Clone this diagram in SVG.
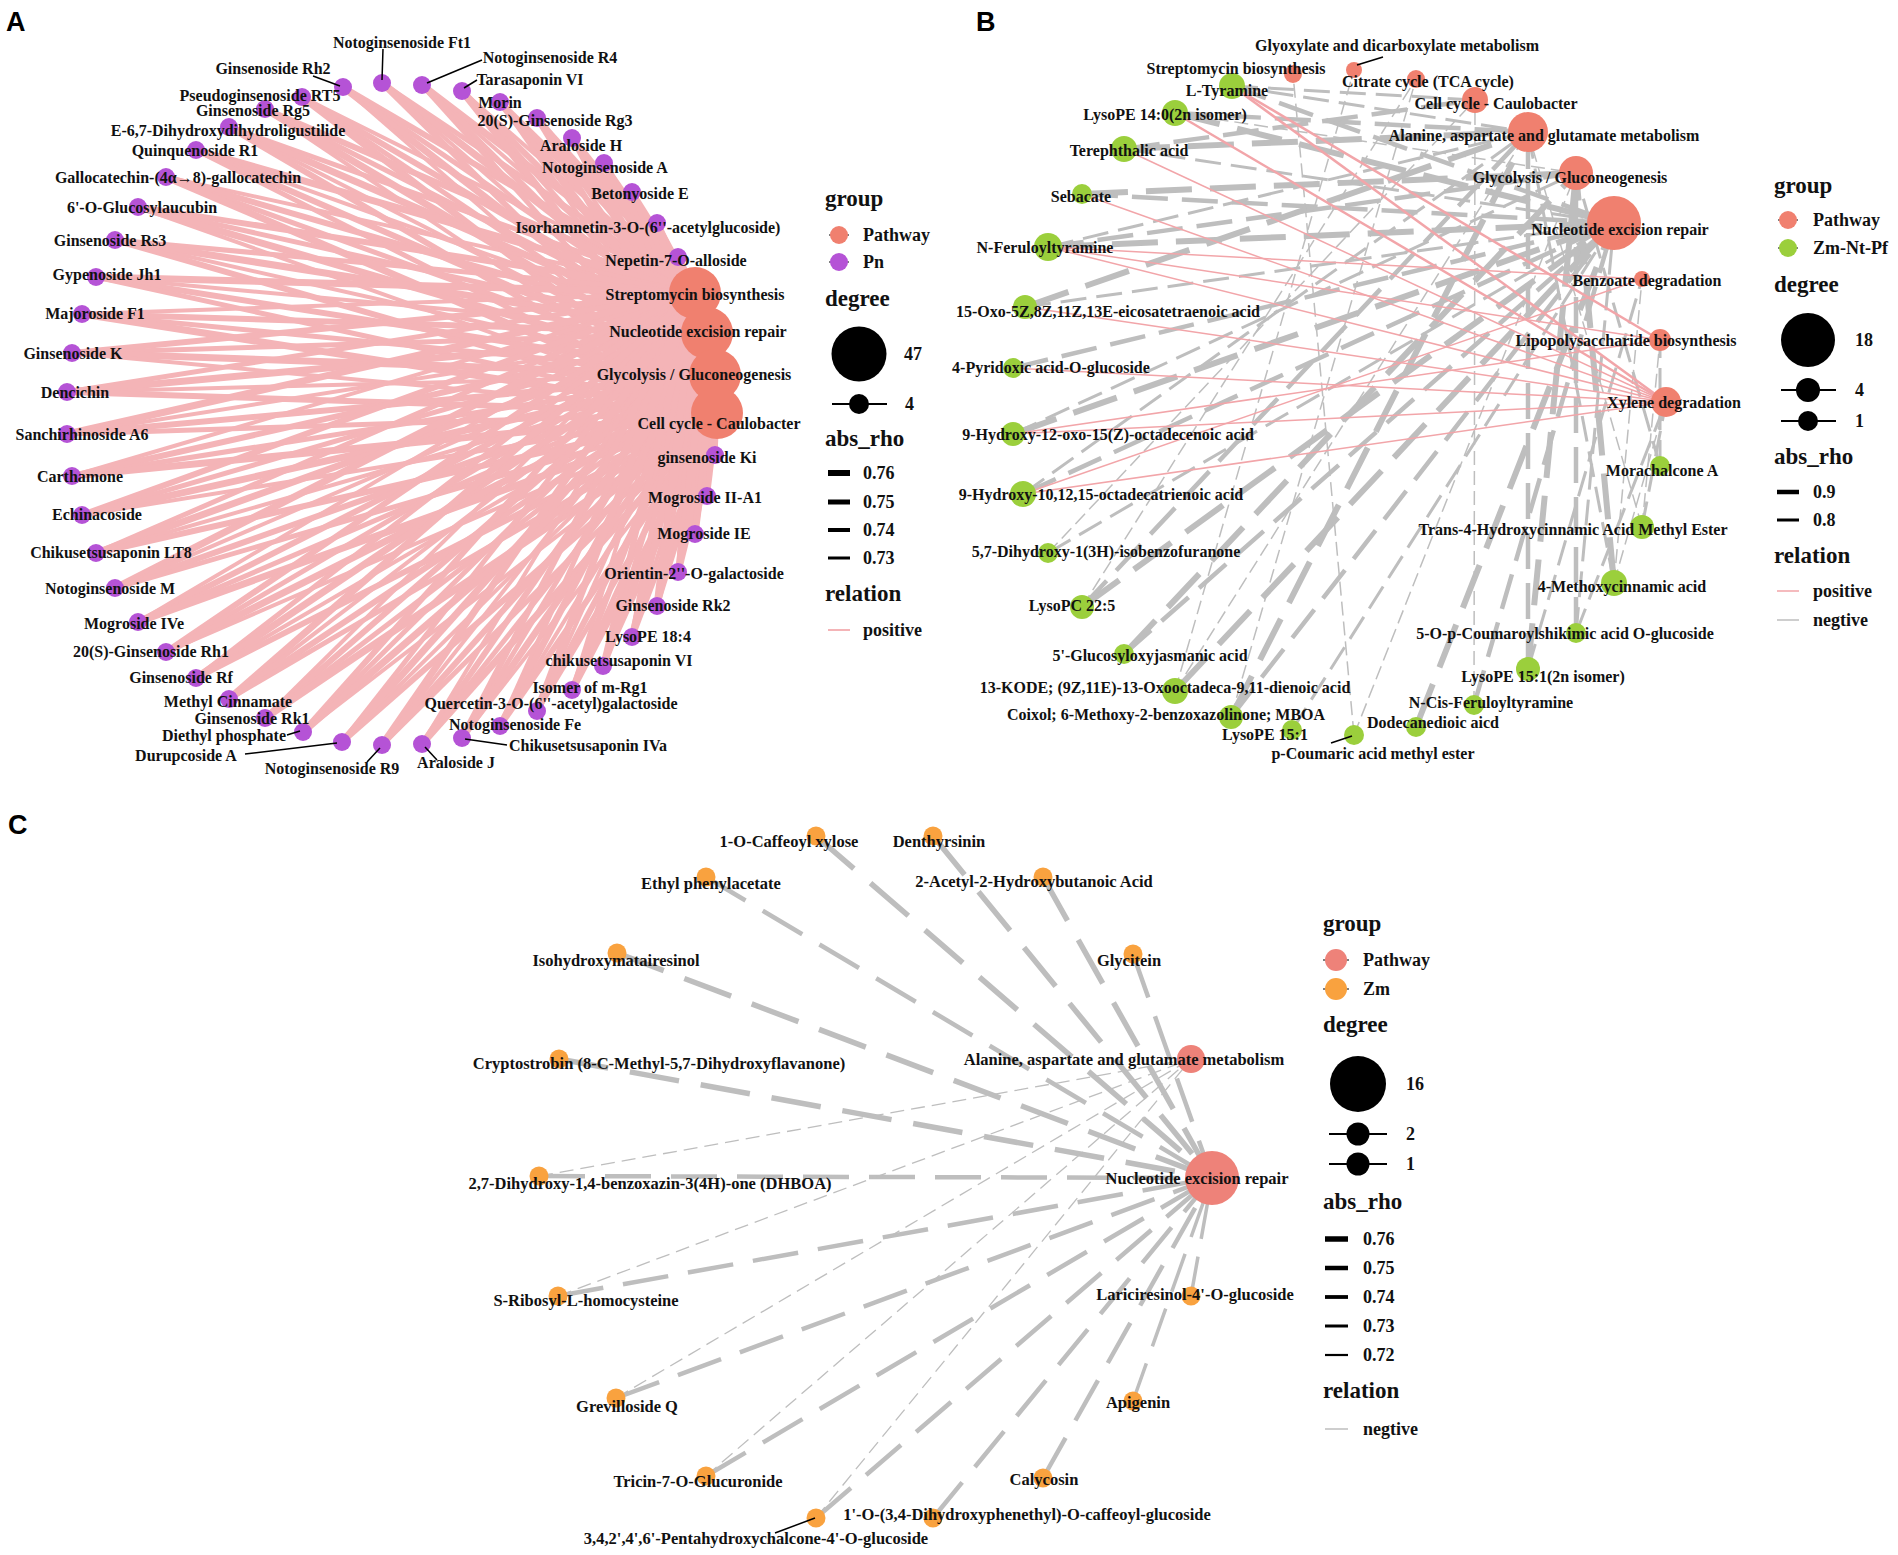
<svg xmlns="http://www.w3.org/2000/svg" width="1898" height="1555" viewBox="0 0 1898 1555">
<style>
text{font-family:"Liberation Serif","Times New Roman",serif;font-weight:bold;fill:#111}
.lbl{font-size:16px;text-anchor:middle;dominant-baseline:central}
.lc{font-size:16.5px;text-anchor:middle;dominant-baseline:central}
.ttl{font-size:23px}
.lg{font-size:18px}
.pl{font-family:"Liberation Sans",Arial,sans-serif;font-size:27px;fill:#000}
.a4,.a5,.a6,.a7{stroke:#F4B4B7;fill:none}
.a4{stroke-width:4}.a5{stroke-width:5}.a6{stroke-width:6}.a7{stroke-width:7}
.q1,.q2{stroke:#F2A5A9;fill:none}
.q1{stroke-width:1.5}.q2{stroke-width:2.5}
.d1,.d2,.d3,.d4{stroke:#BEBEBE;fill:none}
.d1{stroke-width:1.5;stroke-dasharray:14 6}
.d2{stroke-width:3;stroke-dasharray:26 10}
.d3{stroke-width:4.5;stroke-dasharray:36 14}
.d4{stroke-width:6;stroke-dasharray:46 18}
.c1,.c2,.c3,.c4{stroke:#BEBEBE;fill:none}
.c1{stroke-width:1.3;stroke-dasharray:14 7}
.c2{stroke-width:3.5;stroke-dasharray:40 18}
.c3{stroke-width:4.5;stroke-dasharray:46 20}
.c4{stroke-width:5.5;stroke-dasharray:50 22}
.ld{stroke:#000;stroke-width:1.5;fill:none}
.pw{fill:#F0806F}
.pn{fill:#B553D6}
.gr{fill:#9BCF3C}
.zm{fill:#F9A23F}
.pc{fill:#EE8279}
</style>

<!-- Panel letters -->
<text class="pl" x="6" y="31">A</text>
<text class="pl" x="976" y="31">B</text>
<text class="pl" x="8" y="834">C</text>

<!-- ========== Panel A connectors ========== -->
<g id="edges-A">
<line class="a6" x1="343" y1="87" x2="695" y2="293"/><line class="a5" x1="343" y1="87" x2="707" y2="333"/><line class="a7" x1="343" y1="87" x2="715" y2="375"/><line class="a4" x1="343" y1="87" x2="717" y2="413"/>
<line class="a5" x1="382" y1="83" x2="695" y2="293"/><line class="a7" x1="382" y1="83" x2="707" y2="333"/><line class="a4" x1="382" y1="83" x2="715" y2="375"/><line class="a6" x1="382" y1="83" x2="717" y2="413"/>
<line class="a7" x1="422" y1="85" x2="695" y2="293"/><line class="a4" x1="422" y1="85" x2="707" y2="333"/><line class="a6" x1="422" y1="85" x2="715" y2="375"/><line class="a5" x1="422" y1="85" x2="717" y2="413"/>
<line class="a4" x1="462" y1="91" x2="695" y2="293"/><line class="a6" x1="462" y1="91" x2="707" y2="333"/><line class="a5" x1="462" y1="91" x2="715" y2="375"/><line class="a7" x1="462" y1="91" x2="717" y2="413"/>
<line class="a6" x1="500" y1="102" x2="695" y2="293"/><line class="a5" x1="500" y1="102" x2="707" y2="333"/><line class="a7" x1="500" y1="102" x2="715" y2="375"/><line class="a4" x1="500" y1="102" x2="717" y2="413"/>
<line class="a5" x1="537" y1="118" x2="695" y2="293"/><line class="a7" x1="537" y1="118" x2="707" y2="333"/><line class="a4" x1="537" y1="118" x2="715" y2="375"/><line class="a6" x1="537" y1="118" x2="717" y2="413"/>
<line class="a7" x1="572" y1="138" x2="695" y2="293"/><line class="a4" x1="572" y1="138" x2="707" y2="333"/><line class="a6" x1="572" y1="138" x2="715" y2="375"/><line class="a5" x1="572" y1="138" x2="717" y2="413"/>
<line class="a4" x1="604" y1="163" x2="695" y2="293"/><line class="a6" x1="604" y1="163" x2="707" y2="333"/><line class="a5" x1="604" y1="163" x2="715" y2="375"/><line class="a7" x1="604" y1="163" x2="717" y2="413"/>
<line class="a6" x1="632" y1="192" x2="695" y2="293"/><line class="a5" x1="632" y1="192" x2="707" y2="333"/><line class="a7" x1="632" y1="192" x2="715" y2="375"/><line class="a4" x1="632" y1="192" x2="717" y2="413"/>
<line class="a5" x1="657" y1="223" x2="695" y2="293"/><line class="a7" x1="657" y1="223" x2="707" y2="333"/><line class="a4" x1="657" y1="223" x2="715" y2="375"/><line class="a6" x1="657" y1="223" x2="717" y2="413"/>
<line class="a7" x1="678" y1="257" x2="695" y2="293"/><line class="a4" x1="678" y1="257" x2="707" y2="333"/><line class="a6" x1="678" y1="257" x2="715" y2="375"/><line class="a5" x1="678" y1="257" x2="717" y2="413"/>
<line class="a4" x1="302" y1="97" x2="695" y2="293"/><line class="a6" x1="302" y1="97" x2="707" y2="333"/><line class="a5" x1="302" y1="97" x2="715" y2="375"/><line class="a7" x1="302" y1="97" x2="717" y2="413"/>
<line class="a6" x1="265" y1="109" x2="695" y2="293"/><line class="a5" x1="265" y1="109" x2="707" y2="333"/><line class="a7" x1="265" y1="109" x2="715" y2="375"/><line class="a4" x1="265" y1="109" x2="717" y2="413"/>
<line class="a5" x1="229" y1="127" x2="695" y2="293"/><line class="a7" x1="229" y1="127" x2="707" y2="333"/><line class="a4" x1="229" y1="127" x2="715" y2="375"/><line class="a6" x1="229" y1="127" x2="717" y2="413"/>
<line class="a7" x1="196" y1="150" x2="695" y2="293"/><line class="a4" x1="196" y1="150" x2="707" y2="333"/><line class="a6" x1="196" y1="150" x2="715" y2="375"/><line class="a5" x1="196" y1="150" x2="717" y2="413"/>
<line class="a4" x1="166" y1="177" x2="695" y2="293"/><line class="a6" x1="166" y1="177" x2="707" y2="333"/><line class="a5" x1="166" y1="177" x2="715" y2="375"/><line class="a7" x1="166" y1="177" x2="717" y2="413"/>
<line class="a6" x1="138" y1="207" x2="695" y2="293"/><line class="a5" x1="138" y1="207" x2="707" y2="333"/><line class="a7" x1="138" y1="207" x2="715" y2="375"/><line class="a4" x1="138" y1="207" x2="717" y2="413"/>
<line class="a5" x1="115" y1="240" x2="695" y2="293"/><line class="a7" x1="115" y1="240" x2="707" y2="333"/><line class="a4" x1="115" y1="240" x2="715" y2="375"/><line class="a6" x1="115" y1="240" x2="717" y2="413"/>
<line class="a7" x1="96" y1="277" x2="695" y2="293"/><line class="a4" x1="96" y1="277" x2="707" y2="333"/><line class="a6" x1="96" y1="277" x2="715" y2="375"/><line class="a5" x1="96" y1="277" x2="717" y2="413"/>
<line class="a4" x1="82" y1="314" x2="695" y2="293"/><line class="a6" x1="82" y1="314" x2="707" y2="333"/><line class="a5" x1="82" y1="314" x2="715" y2="375"/><line class="a7" x1="82" y1="314" x2="717" y2="413"/>
<line class="a6" x1="72" y1="353" x2="695" y2="293"/><line class="a5" x1="72" y1="353" x2="707" y2="333"/><line class="a7" x1="72" y1="353" x2="715" y2="375"/><line class="a4" x1="72" y1="353" x2="717" y2="413"/>
<line class="a5" x1="67" y1="392" x2="695" y2="293"/><line class="a7" x1="67" y1="392" x2="707" y2="333"/><line class="a4" x1="67" y1="392" x2="715" y2="375"/><line class="a6" x1="67" y1="392" x2="717" y2="413"/>
<line class="a7" x1="67" y1="434" x2="695" y2="293"/><line class="a4" x1="67" y1="434" x2="707" y2="333"/><line class="a6" x1="67" y1="434" x2="715" y2="375"/><line class="a5" x1="67" y1="434" x2="717" y2="413"/>
<line class="a4" x1="72" y1="476" x2="695" y2="293"/><line class="a6" x1="72" y1="476" x2="707" y2="333"/><line class="a5" x1="72" y1="476" x2="715" y2="375"/><line class="a7" x1="72" y1="476" x2="717" y2="413"/>
<line class="a6" x1="82" y1="515" x2="695" y2="293"/><line class="a5" x1="82" y1="515" x2="707" y2="333"/><line class="a7" x1="82" y1="515" x2="715" y2="375"/><line class="a4" x1="82" y1="515" x2="717" y2="413"/>
<line class="a5" x1="96" y1="553" x2="695" y2="293"/><line class="a7" x1="96" y1="553" x2="707" y2="333"/><line class="a4" x1="96" y1="553" x2="715" y2="375"/><line class="a6" x1="96" y1="553" x2="717" y2="413"/>
<line class="a7" x1="115" y1="588" x2="695" y2="293"/><line class="a4" x1="115" y1="588" x2="707" y2="333"/><line class="a6" x1="115" y1="588" x2="715" y2="375"/><line class="a5" x1="115" y1="588" x2="717" y2="413"/>
<line class="a4" x1="138" y1="622" x2="695" y2="293"/><line class="a6" x1="138" y1="622" x2="707" y2="333"/><line class="a5" x1="138" y1="622" x2="715" y2="375"/><line class="a7" x1="138" y1="622" x2="717" y2="413"/>
<line class="a6" x1="166" y1="652" x2="695" y2="293"/><line class="a5" x1="166" y1="652" x2="707" y2="333"/><line class="a7" x1="166" y1="652" x2="715" y2="375"/><line class="a4" x1="166" y1="652" x2="717" y2="413"/>
<line class="a5" x1="196" y1="678" x2="695" y2="293"/><line class="a7" x1="196" y1="678" x2="707" y2="333"/><line class="a4" x1="196" y1="678" x2="715" y2="375"/><line class="a6" x1="196" y1="678" x2="717" y2="413"/>
<line class="a7" x1="229" y1="699" x2="695" y2="293"/><line class="a4" x1="229" y1="699" x2="707" y2="333"/><line class="a6" x1="229" y1="699" x2="715" y2="375"/><line class="a5" x1="229" y1="699" x2="717" y2="413"/>
<line class="a4" x1="265" y1="718" x2="695" y2="293"/><line class="a6" x1="265" y1="718" x2="707" y2="333"/><line class="a5" x1="265" y1="718" x2="715" y2="375"/><line class="a7" x1="265" y1="718" x2="717" y2="413"/>
<line class="a6" x1="303" y1="732" x2="695" y2="293"/><line class="a5" x1="303" y1="732" x2="707" y2="333"/><line class="a7" x1="303" y1="732" x2="715" y2="375"/><line class="a4" x1="303" y1="732" x2="717" y2="413"/>
<line class="a5" x1="342" y1="742" x2="695" y2="293"/><line class="a7" x1="342" y1="742" x2="707" y2="333"/><line class="a4" x1="342" y1="742" x2="715" y2="375"/><line class="a6" x1="342" y1="742" x2="717" y2="413"/>
<line class="a7" x1="382" y1="745" x2="695" y2="293"/><line class="a4" x1="382" y1="745" x2="707" y2="333"/><line class="a6" x1="382" y1="745" x2="715" y2="375"/><line class="a5" x1="382" y1="745" x2="717" y2="413"/>
<line class="a4" x1="422" y1="744" x2="695" y2="293"/><line class="a6" x1="422" y1="744" x2="707" y2="333"/><line class="a5" x1="422" y1="744" x2="715" y2="375"/><line class="a7" x1="422" y1="744" x2="717" y2="413"/>
<line class="a6" x1="462" y1="738" x2="695" y2="293"/><line class="a5" x1="462" y1="738" x2="707" y2="333"/><line class="a7" x1="462" y1="738" x2="715" y2="375"/><line class="a4" x1="462" y1="738" x2="717" y2="413"/>
<line class="a5" x1="500" y1="726" x2="695" y2="293"/><line class="a7" x1="500" y1="726" x2="707" y2="333"/><line class="a4" x1="500" y1="726" x2="715" y2="375"/><line class="a6" x1="500" y1="726" x2="717" y2="413"/>
<line class="a7" x1="537" y1="711" x2="695" y2="293"/><line class="a4" x1="537" y1="711" x2="707" y2="333"/><line class="a6" x1="537" y1="711" x2="715" y2="375"/><line class="a5" x1="537" y1="711" x2="717" y2="413"/>
<line class="a4" x1="572" y1="690" x2="695" y2="293"/><line class="a6" x1="572" y1="690" x2="707" y2="333"/><line class="a5" x1="572" y1="690" x2="715" y2="375"/><line class="a7" x1="572" y1="690" x2="717" y2="413"/>
<line class="a6" x1="603" y1="666" x2="695" y2="293"/><line class="a5" x1="603" y1="666" x2="707" y2="333"/><line class="a7" x1="603" y1="666" x2="715" y2="375"/><line class="a4" x1="603" y1="666" x2="717" y2="413"/>
<line class="a5" x1="632" y1="637" x2="695" y2="293"/><line class="a7" x1="632" y1="637" x2="707" y2="333"/><line class="a4" x1="632" y1="637" x2="715" y2="375"/><line class="a6" x1="632" y1="637" x2="717" y2="413"/>
<line class="a7" x1="657" y1="606" x2="695" y2="293"/><line class="a4" x1="657" y1="606" x2="707" y2="333"/><line class="a6" x1="657" y1="606" x2="715" y2="375"/><line class="a5" x1="657" y1="606" x2="717" y2="413"/>
<line class="a4" x1="678" y1="572" x2="695" y2="293"/><line class="a6" x1="678" y1="572" x2="707" y2="333"/><line class="a5" x1="678" y1="572" x2="715" y2="375"/><line class="a7" x1="678" y1="572" x2="717" y2="413"/>
<line class="a6" x1="695" y1="534" x2="695" y2="293"/><line class="a5" x1="695" y1="534" x2="707" y2="333"/><line class="a7" x1="695" y1="534" x2="715" y2="375"/><line class="a4" x1="695" y1="534" x2="717" y2="413"/>
<line class="a5" x1="707" y1="496" x2="695" y2="293"/><line class="a7" x1="707" y1="496" x2="707" y2="333"/><line class="a4" x1="707" y1="496" x2="715" y2="375"/><line class="a6" x1="707" y1="496" x2="717" y2="413"/>
<line class="a7" x1="715" y1="455" x2="695" y2="293"/><line class="a4" x1="715" y1="455" x2="707" y2="333"/><line class="a6" x1="715" y1="455" x2="715" y2="375"/><line class="a5" x1="715" y1="455" x2="717" y2="413"/>
</g>

<!-- ========== Panel B connectors ========== -->
<g id="edges-B">
<line class="d3" x1="1232" y1="86" x2="1614" y2="223"/>
<line class="d4" x1="1175" y1="113" x2="1614" y2="223"/>
<line class="d2" x1="1124" y1="149" x2="1614" y2="223"/>
<line class="d3" x1="1082" y1="194" x2="1614" y2="223"/>
<line class="d4" x1="1048" y1="247" x2="1614" y2="223"/>
<line class="d2" x1="1025" y1="307" x2="1614" y2="223"/>
<line class="d3" x1="1013" y1="368" x2="1614" y2="223"/>
<line class="d4" x1="1013" y1="434" x2="1614" y2="223"/>
<line class="d3" x1="1023" y1="494" x2="1614" y2="223"/>
<line class="d2" x1="1048" y1="553" x2="1614" y2="223"/>
<line class="d4" x1="1082" y1="607" x2="1614" y2="223"/>
<line class="d3" x1="1124" y1="654" x2="1614" y2="223"/>
<line class="d4" x1="1175" y1="691" x2="1614" y2="223"/>
<line class="d3" x1="1231" y1="717" x2="1614" y2="223"/>
<line class="d2" x1="1292" y1="730" x2="1614" y2="223"/>
<line class="d4" x1="1416" y1="727" x2="1614" y2="223"/>
<line class="d3" x1="1474" y1="705" x2="1614" y2="223"/>
<line class="d2" x1="1576" y1="633" x2="1614" y2="223"/>
<line class="d2" x1="1232" y1="86" x2="1528" y2="132"/>
<line class="d3" x1="1175" y1="113" x2="1528" y2="132"/>
<line class="d4" x1="1124" y1="149" x2="1528" y2="132"/>
<line class="d2" x1="1048" y1="247" x2="1528" y2="132"/>
<line class="d4" x1="1025" y1="307" x2="1528" y2="132"/>
<line class="d2" x1="1023" y1="494" x2="1528" y2="132"/>
<line class="d3" x1="1082" y1="607" x2="1528" y2="132"/>
<line class="d1" x1="1175" y1="691" x2="1528" y2="132"/>
<line class="d4" x1="1231" y1="717" x2="1528" y2="132"/>
<line class="d3" x1="1528" y1="669" x2="1528" y2="132"/>
<line class="d2" x1="1614" y1="583" x2="1528" y2="132"/>
<line class="d1" x1="1642" y1="527" x2="1528" y2="132"/>
<line class="d1" x1="1175" y1="113" x2="1576" y2="173"/>
<line class="d4" x1="1082" y1="194" x2="1576" y2="173"/>
<line class="d3" x1="1048" y1="247" x2="1576" y2="173"/>
<line class="d2" x1="1013" y1="434" x2="1576" y2="173"/>
<line class="d4" x1="1124" y1="654" x2="1576" y2="173"/>
<line class="d1" x1="1354" y1="735" x2="1576" y2="173"/>
<line class="d4" x1="1528" y1="669" x2="1576" y2="173"/>
<line class="d3" x1="1576" y1="633" x2="1576" y2="173"/>
<line class="d4" x1="1614" y1="583" x2="1576" y2="173"/>
<line class="d2" x1="1660" y1="466" x2="1576" y2="173"/>
<line class="d2" x1="1232" y1="86" x2="1475" y2="100"/>
<line class="d3" x1="1124" y1="149" x2="1475" y2="100"/>
<line class="d1" x1="1048" y1="553" x2="1475" y2="100"/>
<line class="d1" x1="1474" y1="705" x2="1475" y2="100"/>
<line class="d1" x1="1082" y1="607" x2="1416" y2="79"/>
<line class="d1" x1="1231" y1="717" x2="1416" y2="79"/>
<line class="d1" x1="1354" y1="735" x2="1293" y2="74"/>
<line class="d1" x1="1175" y1="691" x2="1354" y2="70"/>
<line class="d1" x1="1642" y1="527" x2="1660" y2="340"/>
<line class="d2" x1="1660" y1="466" x2="1660" y2="340"/>
<line class="d2" x1="1576" y1="633" x2="1666" y2="402"/>
<line class="d1" x1="1614" y1="583" x2="1666" y2="402"/>
<line class="d2" x1="1642" y1="527" x2="1666" y2="402"/>
<line class="d1" x1="1614" y1="583" x2="1642" y2="279"/>
<line class="d2" x1="1528" y1="669" x2="1642" y2="279"/>
<line class="q2" x1="1232" y1="86" x2="1660" y2="340"/>
<line class="q2" x1="1232" y1="86" x2="1666" y2="402"/>
<line class="q2" x1="1175" y1="113" x2="1666" y2="402"/>
<line class="q1" x1="1124" y1="149" x2="1666" y2="402"/>
<line class="q1" x1="1082" y1="194" x2="1666" y2="402"/>
<line class="q1" x1="1048" y1="247" x2="1666" y2="402"/>
<line class="q1" x1="1048" y1="247" x2="1660" y2="340"/>
<line class="q1" x1="1048" y1="247" x2="1642" y2="279"/>
<line class="q1" x1="1025" y1="307" x2="1666" y2="402"/>
<line class="q1" x1="1013" y1="368" x2="1666" y2="402"/>
<line class="q1" x1="1013" y1="434" x2="1666" y2="402"/>
<line class="q1" x1="1013" y1="434" x2="1660" y2="340"/>
<line class="q1" x1="1023" y1="494" x2="1666" y2="402"/>
<line class="q1" x1="1023" y1="494" x2="1642" y2="279"/>
</g>

<!-- ========== Panel C connectors ========== -->
<g id="edges-C">
<line class="c4" x1="816" y1="836" x2="1212" y2="1178"/>
<line class="c4" x1="933" y1="836" x2="1212" y2="1178"/>
<line class="c3" x1="706" y1="877" x2="1212" y2="1178"/>
<line class="c4" x1="1043" y1="877" x2="1212" y2="1178"/>
<line class="c4" x1="617" y1="953" x2="1212" y2="1178"/>
<line class="c3" x1="1133" y1="954" x2="1212" y2="1178"/>
<line class="c4" x1="559" y1="1059" x2="1212" y2="1178"/>
<line class="c3" x1="539" y1="1176" x2="1212" y2="1178"/>
<line class="c3" x1="558" y1="1296" x2="1212" y2="1178"/>
<line class="c2" x1="1191" y1="1296" x2="1212" y2="1178"/>
<line class="c3" x1="616" y1="1398" x2="1212" y2="1178"/>
<line class="c2" x1="1133" y1="1401" x2="1212" y2="1178"/>
<line class="c3" x1="706" y1="1476" x2="1212" y2="1178"/>
<line class="c3" x1="1043" y1="1478" x2="1212" y2="1178"/>
<line class="c3" x1="816" y1="1518" x2="1212" y2="1178"/>
<line class="c3" x1="933" y1="1518" x2="1212" y2="1178"/>
<line class="c1" x1="539" y1="1176" x2="1191" y2="1059"/>
<line class="c1" x1="558" y1="1296" x2="1191" y2="1059"/>
<line class="c1" x1="616" y1="1398" x2="1191" y2="1059"/>
<line class="c1" x1="706" y1="1476" x2="1191" y2="1059"/>
<line class="c1" x1="816" y1="1518" x2="1191" y2="1059"/>
</g>

<!-- ========== Panel A nodes ========== -->
<g id="nodes-A">
<g id="A-pathways">
<circle class="pw" cx="695" cy="293" r="26"/>
<circle class="pw" cx="707" cy="333" r="26"/>
<circle class="pw" cx="715" cy="375" r="26"/>
<circle class="pw" cx="717" cy="413" r="26"/>
</g>
<g id="A-pn">
<circle class="pn" cx="343" cy="87" r="9"/><circle class="pn" cx="382" cy="83" r="9"/><circle class="pn" cx="422" cy="85" r="9"/><circle class="pn" cx="462" cy="91" r="9"/>
<circle class="pn" cx="500" cy="102" r="9"/><circle class="pn" cx="537" cy="118" r="9"/><circle class="pn" cx="572" cy="138" r="9"/><circle class="pn" cx="604" cy="163" r="9"/>
<circle class="pn" cx="632" cy="192" r="9"/><circle class="pn" cx="657" cy="223" r="9"/><circle class="pn" cx="678" cy="257" r="9"/><circle class="pn" cx="302" cy="97" r="9"/>
<circle class="pn" cx="265" cy="109" r="9"/><circle class="pn" cx="229" cy="127" r="9"/><circle class="pn" cx="196" cy="150" r="9"/><circle class="pn" cx="166" cy="177" r="9"/>
<circle class="pn" cx="138" cy="207" r="9"/><circle class="pn" cx="115" cy="240" r="9"/><circle class="pn" cx="96" cy="277" r="9"/><circle class="pn" cx="82" cy="314" r="9"/>
<circle class="pn" cx="72" cy="353" r="9"/><circle class="pn" cx="67" cy="392" r="9"/><circle class="pn" cx="67" cy="434" r="9"/><circle class="pn" cx="72" cy="476" r="9"/>
<circle class="pn" cx="82" cy="515" r="9"/><circle class="pn" cx="96" cy="553" r="9"/><circle class="pn" cx="115" cy="588" r="9"/><circle class="pn" cx="138" cy="622" r="9"/>
<circle class="pn" cx="166" cy="652" r="9"/><circle class="pn" cx="196" cy="678" r="9"/><circle class="pn" cx="229" cy="699" r="9"/><circle class="pn" cx="265" cy="718" r="9"/>
<circle class="pn" cx="303" cy="732" r="9"/><circle class="pn" cx="342" cy="742" r="9"/><circle class="pn" cx="382" cy="745" r="9"/><circle class="pn" cx="422" cy="744" r="9"/>
<circle class="pn" cx="462" cy="738" r="9"/><circle class="pn" cx="500" cy="726" r="9"/><circle class="pn" cx="537" cy="711" r="9"/><circle class="pn" cx="572" cy="690" r="9"/>
<circle class="pn" cx="603" cy="666" r="9"/><circle class="pn" cx="632" cy="637" r="9"/><circle class="pn" cx="657" cy="606" r="9"/><circle class="pn" cx="678" cy="572" r="9"/>
<circle class="pn" cx="695" cy="534" r="9"/><circle class="pn" cx="707" cy="496" r="9"/><circle class="pn" cx="715" cy="455" r="9"/>
</g>
<g id="A-leaders">
<line class="ld" x1="313" y1="76" x2="340" y2="86"/>
<line class="ld" x1="383" y1="49" x2="382" y2="80"/>
<line class="ld" x1="427" y1="83" x2="482" y2="60"/>
<line class="ld" x1="464" y1="88" x2="477" y2="80"/>
<line class="ld" x1="287" y1="735" x2="300" y2="731"/>
<line class="ld" x1="245" y1="754" x2="337" y2="743"/>
<line class="ld" x1="367" y1="762" x2="380" y2="748"/>
<line class="ld" x1="437" y1="760" x2="425" y2="747"/>
<line class="ld" x1="465" y1="739" x2="507" y2="745"/>
</g>
<g id="A-labels">
<text class="lbl" x="273" y="68">Ginsenoside Rh2</text>
<text class="lbl" x="402" y="42">Notoginsenoside Ft1</text>
<text class="lbl" x="550" y="57">Notoginsenoside R4</text>
<text class="lbl" x="530" y="79">Tarasaponin VI</text>
<text class="lbl" x="500" y="102">Morin</text>
<text class="lbl" x="555" y="120">20(S)-Ginsenoside Rg3</text>
<text class="lbl" x="581" y="145">Araloside H</text>
<text class="lbl" x="605" y="167">Notoginsenoside A</text>
<text class="lbl" x="640" y="193">Betonyoside E</text>
<text class="lbl" x="648" y="227">Isorhamnetin-3-O-(6''-acetylglucoside)</text>
<text class="lbl" x="676" y="260">Nepetin-7-O-alloside</text>
<text class="lbl" x="695" y="294">Streptomycin biosynthesis</text>
<text class="lbl" x="698" y="331">Nucleotide excision repair</text>
<text class="lbl" x="694" y="374">Glycolysis / Gluconeogenesis</text>
<text class="lbl" x="719" y="423">Cell cycle - Caulobacter</text>
<text class="lbl" x="707" y="457">ginsenoside Ki</text>
<text class="lbl" x="705" y="497">Mogroside II-A1</text>
<text class="lbl" x="704" y="533">Mogroside IE</text>
<text class="lbl" x="694" y="573">Orientin-2''-O-galactoside</text>
<text class="lbl" x="673" y="605">Ginsenoside Rk2</text>
<text class="lbl" x="648" y="636">LysoPE 18:4</text>
<text class="lbl" x="619" y="660">chikusetsusaponin VI</text>
<text class="lbl" x="590" y="687">Isomer of m-Rg1</text>
<text class="lbl" x="551" y="703">Quercetin-3-O-(6''-acetyl)galactoside</text>
<text class="lbl" x="515" y="724">Notoginsenoside Fe</text>
<text class="lbl" x="588" y="745">Chikusetsusaponin IVa</text>
<text class="lbl" x="456" y="762">Araloside J</text>
<text class="lbl" x="332" y="768">Notoginsenoside R9</text>
<text class="lbl" x="186" y="755">Durupcoside A</text>
<text class="lbl" x="224" y="735">Diethyl phosphate</text>
<text class="lbl" x="252" y="718">Ginsenoside Rk1</text>
<text class="lbl" x="228" y="701">Methyl Cinnamate</text>
<text class="lbl" x="181" y="677">Ginsenoside Rf</text>
<text class="lbl" x="151" y="651">20(S)-Ginsenoside Rh1</text>
<text class="lbl" x="134" y="623">Mogroside IVe</text>
<text class="lbl" x="110" y="588">Notoginsenoside M</text>
<text class="lbl" x="111" y="552">Chikusetsusaponin LT8</text>
<text class="lbl" x="97" y="514">Echinacoside</text>
<text class="lbl" x="80" y="476">Carthamone</text>
<text class="lbl" x="82" y="434">Sanchirhinoside A6</text>
<text class="lbl" x="75" y="392">Dencichin</text>
<text class="lbl" x="73" y="353">Ginsenoside K</text>
<text class="lbl" x="95" y="313">Majoroside F1</text>
<text class="lbl" x="107" y="274">Gypenoside Jh1</text>
<text class="lbl" x="110" y="240">Ginsenoside Rs3</text>
<text class="lbl" x="142" y="207">6'-O-Glucosylaucubin</text>
<text class="lbl" x="178" y="177">Gallocatechin-(4α→8)-gallocatechin</text>
<text class="lbl" x="195" y="150">Quinquenoside R1</text>
<text class="lbl" x="228" y="130">E-6,7-Dihydroxydihydroligustilide</text>
<text class="lbl" x="253" y="110">Ginsenoside Rg5</text>
<text class="lbl" x="260" y="95">Pseudoginsenoside RT5</text>
</g>
</g>

<!-- Legend A -->
<g id="legend-A">
<text class="ttl" x="825" y="206">group</text>
<line x1="829" y1="235" x2="849" y2="235" stroke="#000" stroke-width="1"/>
<circle class="pw" cx="839" cy="235" r="9"/>
<text class="lg" x="863" y="241">Pathway</text>
<line x1="829" y1="262" x2="849" y2="262" stroke="#000" stroke-width="1"/>
<circle class="pn" cx="839" cy="262" r="9"/>
<text class="lg" x="863" y="268">Pn</text>
<text class="ttl" x="825" y="306">degree</text>
<circle cx="859" cy="354" r="27.5" fill="#000"/>
<text class="lg" x="904" y="360">47</text>
<line x1="832" y1="404" x2="887" y2="404" stroke="#000" stroke-width="2"/>
<circle cx="859" cy="404" r="10" fill="#000"/>
<text class="lg" x="905" y="410">4</text>
<text class="ttl" x="825" y="446">abs_rho</text>
<line x1="828" y1="473" x2="850" y2="473" stroke="#000" stroke-width="6"/>
<text class="lg" x="863" y="479">0.76</text>
<line x1="828" y1="502" x2="850" y2="502" stroke="#000" stroke-width="5"/>
<text class="lg" x="863" y="508">0.75</text>
<line x1="828" y1="530" x2="850" y2="530" stroke="#000" stroke-width="4"/>
<text class="lg" x="863" y="536">0.74</text>
<line x1="828" y1="558" x2="850" y2="558" stroke="#000" stroke-width="3"/>
<text class="lg" x="863" y="564">0.73</text>
<text class="ttl" x="825" y="601">relation</text>
<line x1="828" y1="630" x2="850" y2="630" stroke="#F4B4B7" stroke-width="2"/>
<text class="lg" x="863" y="636">positive</text>
</g>

<!-- ========== Panel B nodes ========== -->
<g id="nodes-B">
<g id="B-pathways">
<circle class="pw" cx="1354" cy="70" r="8"/>
<circle class="pw" cx="1293" cy="74" r="9"/>
<circle class="pw" cx="1416" cy="79" r="9"/>
<circle class="pw" cx="1475" cy="100" r="13"/>
<circle class="pw" cx="1528" cy="132" r="20"/>
<circle class="pw" cx="1576" cy="173" r="17"/>
<circle class="pw" cx="1614" cy="223" r="27"/>
<circle class="pw" cx="1642" cy="279" r="8"/>
<circle class="pw" cx="1660" cy="340" r="11"/>
<circle class="pw" cx="1666" cy="402" r="15"/>
</g>
<g id="B-metabolites">
<circle class="gr" cx="1232" cy="86" r="13"/>
<circle class="gr" cx="1175" cy="113" r="13"/>
<circle class="gr" cx="1124" cy="149" r="13"/>
<circle class="gr" cx="1082" cy="194" r="10"/>
<circle class="gr" cx="1048" cy="247" r="14"/>
<circle class="gr" cx="1025" cy="307" r="12"/>
<circle class="gr" cx="1013" cy="368" r="10"/>
<circle class="gr" cx="1013" cy="434" r="12"/>
<circle class="gr" cx="1023" cy="494" r="13"/>
<circle class="gr" cx="1048" cy="553" r="10"/>
<circle class="gr" cx="1082" cy="607" r="12"/>
<circle class="gr" cx="1124" cy="654" r="10"/>
<circle class="gr" cx="1175" cy="691" r="13"/>
<circle class="gr" cx="1231" cy="717" r="12"/>
<circle class="gr" cx="1292" cy="730" r="10"/>
<circle class="gr" cx="1354" cy="735" r="10"/>
<circle class="gr" cx="1416" cy="727" r="10"/>
<circle class="gr" cx="1474" cy="705" r="10"/>
<circle class="gr" cx="1528" cy="669" r="12"/>
<circle class="gr" cx="1576" cy="633" r="10"/>
<circle class="gr" cx="1614" cy="583" r="13"/>
<circle class="gr" cx="1642" cy="527" r="12"/>
<circle class="gr" cx="1660" cy="466" r="10"/>
</g>
<g id="B-leaders">
<line class="ld" x1="1357" y1="65" x2="1383" y2="57"/>
<line class="ld" x1="1331" y1="743" x2="1352" y2="736"/>
</g>
<g id="B-labels">
<text class="lbl" x="1397" y="45">Glyoxylate and dicarboxylate metabolism</text>
<text class="lbl" x="1236" y="68">Streptomycin biosynthesis</text>
<text class="lbl" x="1428" y="81">Citrate cycle (TCA cycle)</text>
<text class="lbl" x="1496" y="103">Cell cycle - Caulobacter</text>
<text class="lbl" x="1544" y="135">Alanine, aspartate and glutamate metabolism</text>
<text class="lbl" x="1570" y="177">Glycolysis / Gluconeogenesis</text>
<text class="lbl" x="1620" y="229">Nucleotide excision repair</text>
<text class="lbl" x="1647" y="280">Benzoate degradation</text>
<text class="lbl" x="1626" y="340">Lipopolysaccharide biosynthesis</text>
<text class="lbl" x="1674" y="402">Xylene degradation</text>
<text class="lbl" x="1227" y="90">L-Tyramine</text>
<text class="lbl" x="1165" y="114">LysoPE 14:0(2n isomer)</text>
<text class="lbl" x="1129" y="150">Terephthalic acid</text>
<text class="lbl" x="1081" y="196">Sebacate</text>
<text class="lbl" x="1045" y="247">N-Feruloyltyramine</text>
<text class="lbl" x="1108" y="311">15-Oxo-5Z,8Z,11Z,13E-eicosatetraenoic acid</text>
<text class="lbl" x="1051" y="367">4-Pyridoxic acid-O-glucoside</text>
<text class="lbl" x="1108" y="434">9-Hydroxy-12-oxo-15(Z)-octadecenoic acid</text>
<text class="lbl" x="1101" y="494">9-Hydroxy-10,12,15-octadecatrienoic acid</text>
<text class="lbl" x="1106" y="551">5,7-Dihydroxy-1(3H)-isobenzofuranone</text>
<text class="lbl" x="1072" y="605">LysoPC 22:5</text>
<text class="lbl" x="1150" y="655">5'-Glucosyloxyjasmanic acid</text>
<text class="lbl" x="1165" y="687">13-KODE; (9Z,11E)-13-Oxooctadeca-9,11-dienoic acid</text>
<text class="lbl" x="1166" y="714">Coixol; 6-Methoxy-2-benzoxazolinone; MBOA</text>
<text class="lbl" x="1265" y="734">LysoPE 15:1</text>
<text class="lbl" x="1373" y="753">p-Coumaric acid methyl ester</text>
<text class="lbl" x="1433" y="722">Dodecanedioic aicd</text>
<text class="lbl" x="1491" y="702">N-Cis-Feruloyltyramine</text>
<text class="lbl" x="1543" y="676">LysoPE 15:1(2n isomer)</text>
<text class="lbl" x="1565" y="633">5-O-p-Coumaroylshikimic acid O-glucoside</text>
<text class="lbl" x="1622" y="586">4-Methoxycinnamic acid</text>
<text class="lbl" x="1573" y="529">Trans-4-Hydroxycinnamic Acid Methyl Ester</text>
<text class="lbl" x="1662" y="470">Morachalcone A</text>
</g>
</g>

<!-- Legend B -->
<g id="legend-B">
<text class="ttl" x="1774" y="193">group</text>
<line x1="1778" y1="220" x2="1798" y2="220" stroke="#000" stroke-width="1"/>
<circle class="pw" cx="1788" cy="220" r="9"/>
<text class="lg" x="1813" y="226">Pathway</text>
<line x1="1778" y1="248" x2="1798" y2="248" stroke="#000" stroke-width="1"/>
<circle class="gr" cx="1788" cy="248" r="9"/>
<text class="lg" x="1813" y="254">Zm-Nt-Pf</text>
<text class="ttl" x="1774" y="292">degree</text>
<circle cx="1808" cy="340" r="27" fill="#000"/>
<text class="lg" x="1855" y="346">18</text>
<line x1="1781" y1="390" x2="1836" y2="390" stroke="#000" stroke-width="2"/>
<circle cx="1808" cy="390" r="12" fill="#000"/>
<text class="lg" x="1855" y="396">4</text>
<line x1="1781" y1="421" x2="1836" y2="421" stroke="#000" stroke-width="2"/>
<circle cx="1808" cy="421" r="10" fill="#000"/>
<text class="lg" x="1855" y="427">1</text>
<text class="ttl" x="1774" y="464">abs_rho</text>
<line x1="1777" y1="492" x2="1799" y2="492" stroke="#000" stroke-width="4.5"/>
<text class="lg" x="1813" y="498">0.9</text>
<line x1="1777" y1="520" x2="1799" y2="520" stroke="#000" stroke-width="3"/>
<text class="lg" x="1813" y="526">0.8</text>
<text class="ttl" x="1774" y="563">relation</text>
<line x1="1777" y1="591" x2="1799" y2="591" stroke="#F2A5A9" stroke-width="1.5"/>
<text class="lg" x="1813" y="597">positive</text>
<line x1="1777" y1="620" x2="1799" y2="620" stroke="#BEBEBE" stroke-width="1.5"/>
<text class="lg" x="1813" y="626">negtive</text>
</g>

<!-- ========== Panel C nodes ========== -->
<g id="nodes-C">
<g id="C-pathways">
<circle class="pc" cx="1191" cy="1059" r="14"/>
<circle class="pc" cx="1212" cy="1178" r="27"/>
</g>
<g id="C-zm">
<circle class="zm" cx="816" cy="836" r="9.5"/>
<circle class="zm" cx="933" cy="836" r="9.5"/>
<circle class="zm" cx="706" cy="877" r="9.5"/>
<circle class="zm" cx="1043" cy="877" r="9.5"/>
<circle class="zm" cx="617" cy="953" r="9.5"/>
<circle class="zm" cx="1133" cy="954" r="9.5"/>
<circle class="zm" cx="559" cy="1059" r="9.5"/>
<circle class="zm" cx="539" cy="1176" r="9.5"/>
<circle class="zm" cx="558" cy="1296" r="9.5"/>
<circle class="zm" cx="1191" cy="1296" r="9.5"/>
<circle class="zm" cx="616" cy="1398" r="9.5"/>
<circle class="zm" cx="1133" cy="1401" r="9.5"/>
<circle class="zm" cx="706" cy="1476" r="9.5"/>
<circle class="zm" cx="1043" cy="1478" r="9.5"/>
<circle class="zm" cx="816" cy="1518" r="9.5"/>
<circle class="zm" cx="933" cy="1518" r="9.5"/>
</g>
<line class="ld" x1="775" y1="1533" x2="815" y2="1518"/>
<g id="C-labels">
<text class="lc" x="789" y="841">1-O-Caffeoyl xylose</text>
<text class="lc" x="939" y="841">Denthyrsinin</text>
<text class="lc" x="711" y="883">Ethyl phenylacetate</text>
<text class="lc" x="1034" y="881">2-Acetyl-2-Hydroxybutanoic Acid</text>
<text class="lc" x="616" y="960">Isohydroxymatairesinol</text>
<text class="lc" x="1129" y="960">Glycitein</text>
<text class="lc" x="659" y="1063">Cryptostrobin (8-C-Methyl-5,7-Dihydroxyflavanone)</text>
<text class="lc" x="1124" y="1059">Alanine, aspartate and glutamate metabolism</text>
<text class="lc" x="650" y="1183">2,7-Dihydroxy-1,4-benzoxazin-3(4H)-one (DHBOA)</text>
<text class="lc" x="1197" y="1178">Nucleotide excision repair</text>
<text class="lc" x="586" y="1300">S-Ribosyl-L-homocysteine</text>
<text class="lc" x="1195" y="1294">Lariciresinol-4'-O-glucoside</text>
<text class="lc" x="627" y="1406">Grevilloside Q</text>
<text class="lc" x="1138" y="1402">Apigenin</text>
<text class="lc" x="698" y="1481">Tricin-7-O-Glucuronide</text>
<text class="lc" x="1044" y="1479">Calycosin</text>
<text class="lc" x="756" y="1538">3,4,2',4',6'-Pentahydroxychalcone-4'-O-glucoside</text>
<text class="lc" x="1027" y="1514">1'-O-(3,4-Dihydroxyphenethyl)-O-caffeoyl-glucoside</text>
</g>
</g>

<!-- Legend C -->
<g id="legend-C">
<text class="ttl" x="1323" y="931">group</text>
<line x1="1323" y1="960" x2="1349" y2="960" stroke="#000" stroke-width="1"/>
<circle class="pc" cx="1336" cy="960" r="11"/>
<text class="lg" x="1363" y="966">Pathway</text>
<line x1="1323" y1="989" x2="1349" y2="989" stroke="#000" stroke-width="1"/>
<circle class="zm" cx="1336" cy="989" r="11"/>
<text class="lg" x="1363" y="995">Zm</text>
<text class="ttl" x="1323" y="1032">degree</text>
<circle cx="1358" cy="1084" r="28" fill="#000"/>
<text class="lg" x="1406" y="1090">16</text>
<line x1="1329" y1="1134" x2="1387" y2="1134" stroke="#000" stroke-width="2"/>
<circle cx="1358" cy="1134" r="11.5" fill="#000"/>
<text class="lg" x="1406" y="1140">2</text>
<line x1="1329" y1="1164" x2="1387" y2="1164" stroke="#000" stroke-width="2"/>
<circle cx="1358" cy="1164" r="11.5" fill="#000"/>
<text class="lg" x="1406" y="1170">1</text>
<text class="ttl" x="1323" y="1209">abs_rho</text>
<line x1="1325" y1="1239" x2="1348" y2="1239" stroke="#000" stroke-width="5.5"/>
<text class="lg" x="1363" y="1245">0.76</text>
<line x1="1325" y1="1268" x2="1348" y2="1268" stroke="#000" stroke-width="4.5"/>
<text class="lg" x="1363" y="1274">0.75</text>
<line x1="1325" y1="1297" x2="1348" y2="1297" stroke="#000" stroke-width="3.8"/>
<text class="lg" x="1363" y="1303">0.74</text>
<line x1="1325" y1="1326" x2="1348" y2="1326" stroke="#000" stroke-width="3"/>
<text class="lg" x="1363" y="1332">0.73</text>
<line x1="1325" y1="1355" x2="1348" y2="1355" stroke="#000" stroke-width="2.2"/>
<text class="lg" x="1363" y="1361">0.72</text>
<text class="ttl" x="1323" y="1398">relation</text>
<line x1="1325" y1="1429" x2="1348" y2="1429" stroke="#BEBEBE" stroke-width="1.5"/>
<text class="lg" x="1363" y="1435">negtive</text>
</g>
</svg>
